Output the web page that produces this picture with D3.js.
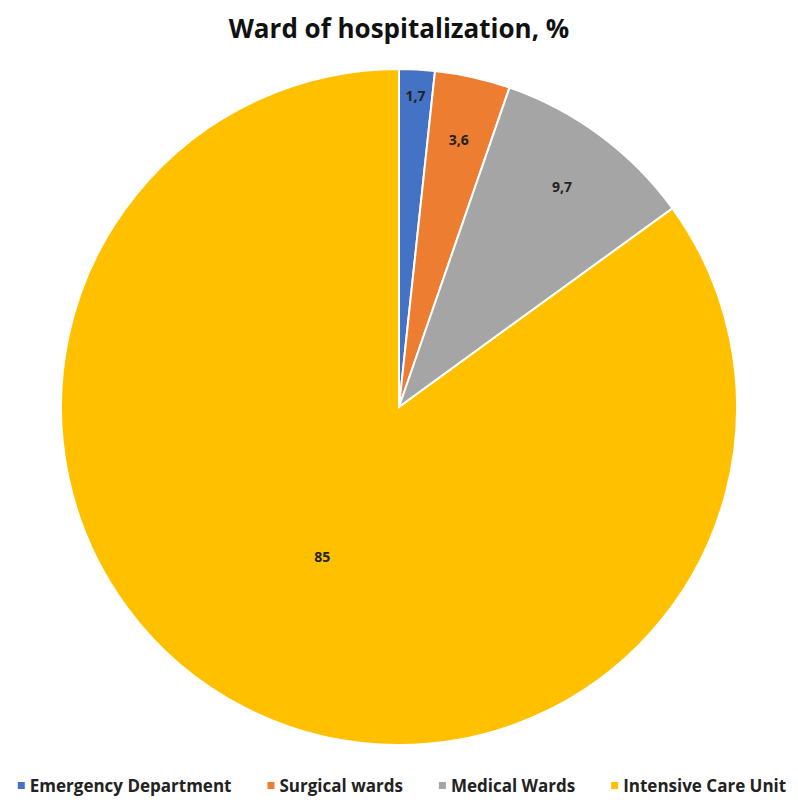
<!DOCTYPE html>
<html>
<head>
<meta charset="utf-8">
<script src="https://cdn.jsdelivr.net/npm/d3@7"></script>
<style>
  body { margin: 0; background: #fff; }
  svg text { font-family: "Open Sans", "DejaVu Sans", sans-serif; }
</style>
</head>
<body>
<svg id="chart" width="798" height="803"></svg>
<script type="text/javascript">
var categories = ["Emergency Department", "Surgical wards", "Medical Wards", "Intensive Care Unit"];
var values = [1.7, 3.6, 9.7, 85];
var valueLabels = ["1,7", "3,6", "9,7", "85"];
var colors = ["#4472C4", "#ED7D31", "#A5A5A5", "#FFC000"];

var width = 798, height = 803;
var cx = 399, cy = 407, radius = 338;

var svg = d3.select("#chart");

svg.append("text")
  .attr("x", width / 2)
  .attr("y", 38)
  .attr("text-anchor", "middle")
  .style("font-size", "26px")
  .style("font-weight", "bold")
  .style("fill", "#111")
  .text("Ward of hospitalization, %");

var data = values.map(function (v, i) {
  return {name: categories[i], value: v, label: valueLabels[i], color: colors[i]};
});

var pie = d3.pie()
  .sort(null)
  .value(function (d) { return d.value; });

var arc = d3.arc()
  .innerRadius(0)
  .outerRadius(radius);

var g = svg.append("g")
  .attr("transform", "translate(" + cx + "," + cy + ")");

var arcs = pie(data);

g.selectAll("path")
  .data(arcs)
  .enter().append("path")
  .attr("d", arc)
  .style("fill", function (d) { return d.data.color; })
  .style("stroke", "#fff")
  .style("stroke-width", "2px");

// best-fit-ish label placement: big slice in the middle, thin ones near the rim
function labelRadius(d) {
  if (d.data.value > 50) return radius * 0.5;
  if (d.data.value < 2) return radius * 0.92;
  return radius * 0.81;
}

g.selectAll("text.lbl")
  .data(arcs)
  .enter().append("text")
  .attr("class", "lbl")
  .attr("transform", function (d) {
    var r = labelRadius(d);
    var a = (d.startAngle + d.endAngle) / 2;
    return "translate(" + (Math.sin(a) * r) + "," + (-Math.cos(a) * r) + ")";
  })
  .attr("text-anchor", "middle")
  .attr("dy", "0.35em")
  .style("font-size", "14px")
  .style("font-weight", "bold")
  .style("fill", "#222")
  .text(function (d) { return d.data.label; });

// legend
var legend = svg.append("g").attr("transform", "translate(0,786)");
var items = legend.selectAll("g")
  .data(data)
  .enter().append("g");

items.append("rect")
  .attr("width", 7)
  .attr("height", 7)
  .attr("y", -4)
  .style("fill", function (d) { return d.color; });

items.append("text")
  .attr("x", 12)
  .attr("dy", "0.35em")
  .style("font-size", "17px")
  .style("font-weight", "bold")
  .style("fill", "#222")
  .text(function (d) { return d.name; });

var gap = 36, xpos = [];
var total = 0;
items.each(function () {
  var w = 12 + d3.select(this).select("text").node().getComputedTextLength();
  xpos.push(w);
  total += w;
});
total += gap * (xpos.length - 1);
var x0 = (width - total) / 2 + 3;
items.attr("transform", function (d, i) {
  var x = x0;
  x0 += xpos[i] + gap;
  return "translate(" + x + ",0)";
});
</script>
</body>
</html>
